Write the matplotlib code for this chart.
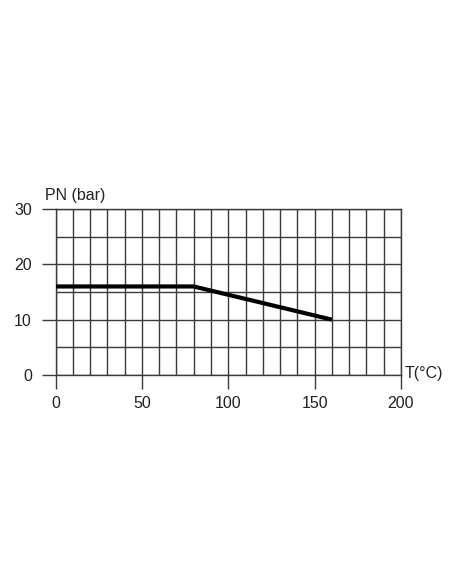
import matplotlib
matplotlib.use('Agg')
import matplotlib.pyplot as plt
import numpy as np

# pressure rating curve
temp = [0, 80, 160]
pn = [16, 16, 10]

x_ticks = [0, 50, 100, 150, 200]
y_ticks = [0, 10, 20, 30]

plt.rcParams['font.family'] = ['Liberation Sans', 'DejaVu Sans']
grid_col = '#3a3a3a'
txt_col = '#222222'

fig = plt.figure(figsize=(4.52, 5.84), dpi=100)
ax = fig.add_axes([0.123, 0.358, 0.764, 0.284])

ax.set_xlim(0, 200)
ax.set_ylim(0, 30)
ax.set_xticks(x_ticks)
ax.set_yticks(y_ticks)
ax.set_xticks(np.arange(0, 201, 10), minor=True)
ax.set_yticks(np.arange(0, 31, 5), minor=True)
ax.grid(True, which='both', color=grid_col, linewidth=1.0)
ax.tick_params(which='major', direction='out', length=10, width=1.0, color=grid_col,
               labelsize=11.5, labelcolor=txt_col)
ax.tick_params(axis='x', which='major', pad=5)
ax.tick_params(axis='y', which='major', pad=7)
ax.tick_params(which='minor', length=0)
for s in ax.spines.values():
    s.set_color(grid_col)
    s.set_linewidth(1.0)

ax.plot(temp, pn, color='black', linewidth=3, solid_capstyle='butt', zorder=5)

fig.text(0.10, 0.653, 'PN (bar)', fontsize=11.5, color=txt_col, ha='left', va='bottom')
fig.text(0.896, 0.360, 'T(°C)', fontsize=11.5, color=txt_col, ha='left', va='center')

fig.savefig('out.png', dpi=100)
